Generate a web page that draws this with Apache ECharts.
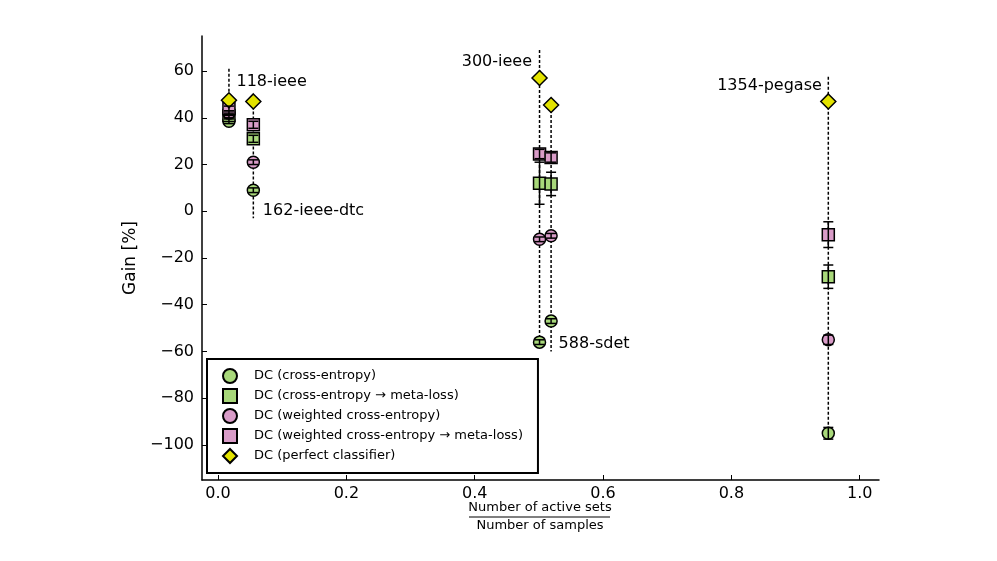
<!DOCTYPE html>
<html>
<head>
<meta charset="utf-8">
<script src="https://cdn.jsdelivr.net/npm/echarts@6/dist/echarts.min.js"></script>
<style>
  html, body { margin: 0; padding: 0; background: #fff; }
  #main { width: 997px; height: 561px; }
</style>
</head>
<body>
<div id="main"></div>
<script>
// 各测试系统的横坐标（有效集数 / 样本数）
var cases = ['118-ieee', '162-ieee-dtc', '300-ieee', '588-sdet', '1354-pegase'];
var xs = [0.017, 0.055, 0.501, 0.519, 0.951];

var ce = [38.5, 9, -56, -47, -95];
var ceErr = [1, 1, 1, 1, 2.5];
var ceMeta = [41, 31, 12, 11.7, -28];
var ceMetaErr = [1, 1.5, 9, 5, 5];
var wce = [42, 21, -12, -10.5, -55];
var wceErr = [1, 1, 1, 1, 2];
var wceMeta = [44, 37, 24.5, 23, -10];
var wceMetaErr = [1, 1.5, 2, 2, 5.5];
var perfect = [47.5, 47, 57, 45.5, 47];

// 虚线的上下端
var lineTop = [61, 47, 69, 45.5, 57.6];
var lineBottom = [38.5, -3, -56, -60, -95];

var yTicks = [-100, -80, -60, -40, -20, 0, 20, 40, 60];
var xTicks = [0, 0.2, 0.4, 0.6, 0.8, 1.0];

var green = '#a8d87a';
var pink = '#d99cc8';
var yellow = '#e3e300';
var font = 'DejaVu Sans';

function pts(vals) {
    var out = [];
    for (var i = 0; i < xs.length; i++) {
        out.push([xs[i], vals[i]]);
    }
    return out;
}

var errData = [];
function addErr(vals, errs) {
    for (var i = 0; i < xs.length; i++) {
        errData.push([xs[i], vals[i], errs[i]]);
    }
}
addErr(ce, ceErr);
addErr(ceMeta, ceMetaErr);
addErr(wce, wceErr);
addErr(wceMeta, wceMetaErr);

// 标注位置：top/bottom 端，左/右
var labelSpec = [
    {end: 'top', pos: 'right', offset: [2, 13]},
    {end: 'bottom', pos: 'right', offset: [4, -7]},
    {end: 'top', pos: 'left', offset: [-2, 12]},
    {end: 'bottom', pos: 'right', offset: [2, -8]},
    {end: 'top', pos: 'left', offset: [-1, 9]}
];

var lineSeries = [];
for (var i = 0; i < xs.length; i++) {
    var s = labelSpec[i];
    var lbl = {
        show: true, formatter: cases[i], position: s.pos, offset: s.offset, distance: 5,
        color: '#000', fontSize: 16, fontFamily: font
    };
    var topItem = {value: [xs[i], lineTop[i]]};
    var botItem = {value: [xs[i], lineBottom[i]]};
    if (s.end == 'top') topItem.label = lbl; else botItem.label = lbl;
    lineSeries.push({
        type: 'line',
        data: [topItem, botItem],
        symbol: 'circle',
        symbolSize: 1,
        showSymbol: true,
        itemStyle: {color: 'rgba(0,0,0,0)'},
        silent: true,
        z: 1,
        lineStyle: {color: '#000', width: 1.5, type: [3, 2]},
        label: {show: false},
        animation: false
    });
}

function scatter(name, vals, symbol, size, color) {
    return {
        name: name,
        type: 'scatter',
        data: pts(vals),
        symbol: symbol,
        symbolSize: size,
        z: 3,
        itemStyle: {color: color, borderColor: '#000', borderWidth: 1.5, opacity: 1},
        animation: false
    };
}

var myChart = echarts.init(document.getElementById('main'));

var option = {
    backgroundColor: '#fff',
    animation: false,
    grid: {left: 202, right: 118, top: 36, bottom: 81},
    legend: {
        orient: 'vertical',
        left: 207,
        top: 359,
        padding: [9, 15, 9, 15],
        itemGap: 4,
        itemWidth: 14,
        itemHeight: 14,
        borderColor: '#000',
        borderWidth: 2,
        backgroundColor: '#fff',
        textStyle: {fontSize: 13, fontFamily: font, color: '#000', padding: [0, 0, 0, 12], lineHeight: 14},
        data: ['DC (cross-entropy)', 'DC (cross-entropy \u2192 meta-loss)', 'DC (weighted cross-entropy)',
            'DC (weighted cross-entropy \u2192 meta-loss)', 'DC (perfect classifier)']
    },
    xAxis: {
        type: 'value',
        min: -0.025,
        max: 1.03,
        axisLine: {show: true, onZero: false, lineStyle: {color: '#000', width: 1.5}},
        axisTick: {show: true, inside: true, length: 5, customValues: xTicks, lineStyle: {color: '#000'}},
        axisLabel: {
            customValues: xTicks, color: '#000', fontSize: 16, fontFamily: font, margin: 6,
            formatter: function (v) { return v.toFixed(1); }
        },
        splitLine: {show: false}
    },
    yAxis: {
        type: 'value',
        min: -115,
        max: 75,
        name: 'Gain [%]',
        nameLocation: 'middle',
        nameGap: 46,
        nameTextStyle: {fontSize: 17, fontFamily: font, color: '#000'},
        axisLine: {show: true, onZero: false, lineStyle: {color: '#000', width: 1.5}},
        axisTick: {show: true, inside: true, length: 5, customValues: yTicks, lineStyle: {color: '#000'}},
        axisLabel: {
            customValues: yTicks, color: '#000', fontSize: 16, fontFamily: font, margin: 8,
            formatter: function (v) { return v < 0 ? '\u2212' + (-v) : String(v); }
        },
        splitLine: {show: false}
    },
    graphic: [
        {type: 'text', x: 540, y: 501, style: {text: 'Number of active sets', align: 'center', fontSize: 13, fontFamily: font, fill: '#000'}},
        {type: 'line', shape: {x1: 469, y1: 517, x2: 610, y2: 517}, style: {stroke: '#000', lineWidth: 1.2}},
        {type: 'text', x: 540, y: 519, style: {text: 'Number of samples', align: 'center', fontSize: 13, fontFamily: font, fill: '#000'}}
    ],
    series: lineSeries.concat([
        scatter('DC (cross-entropy)', ce, 'circle', 12, green),
        scatter('DC (cross-entropy \u2192 meta-loss)', ceMeta, 'rect', 12, green),
        scatter('DC (weighted cross-entropy)', wce, 'circle', 12, pink),
        scatter('DC (weighted cross-entropy \u2192 meta-loss)', wceMeta, 'rect', 12, pink),
        scatter('DC (perfect classifier)', perfect, 'diamond', 15, yellow),
        {
            type: 'custom',
            data: errData,
            z: 4,
            silent: true,
            animation: false,
            renderItem: function (params, api) {
                var x = api.value(0), y = api.value(1), e = api.value(2);
                var p1 = api.coord([x, y + e]);
                var p2 = api.coord([x, y - e]);
                var st = {stroke: '#000', lineWidth: 1.5};
                return {
                    type: 'group',
                    children: [
                        {type: 'line', shape: {x1: p1[0], y1: p1[1], x2: p2[0], y2: p2[1]}, style: st},
                        {type: 'line', shape: {x1: p1[0] - 5, y1: p1[1], x2: p1[0] + 5, y2: p1[1]}, style: st},
                        {type: 'line', shape: {x1: p2[0] - 5, y1: p2[1], x2: p2[0] + 5, y2: p2[1]}, style: st}
                    ]
                };
            }
        }
    ])
};

myChart.setOption(option);

window.onresize = function () {
    myChart.resize();
};
</script>
</body>
</html>
